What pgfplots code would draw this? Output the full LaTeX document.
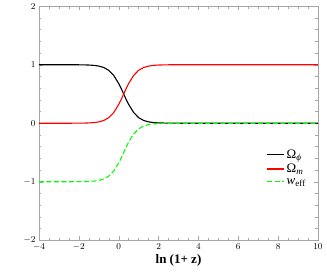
\documentclass[border=0pt]{standalone}
\usepackage{pgfplots}
\pgfplotsset{compat=1.18}
\usepackage{fontspec}
\setmainfont{Liberation Serif}
\begin{document}
\begin{tikzpicture}
\pgfplotstableread{
x omphi omm weff
-4 1.0000 0.0000 -1.0000
-3 0.99996 0.00004 -0.99996
-2.5 0.99975 0.00025 -0.99975
-2 0.99883 0.00117 -0.99883
-1.75 0.99752 0.00248 -0.99752
-1.5 0.99478 0.00522 -0.99478
-1.25 0.9890 0.0110 -0.9890
-1 0.9770 0.0230 -0.9770
-0.75 0.9526 0.0474 -0.9526
-0.5 0.9047 0.0953 -0.9047
-0.25 0.8176 0.1824 -0.8176
0 0.6792 0.3208 -0.6792
0.125 0.5933 0.4067 -0.5933
0.25 0.5000 0.5000 -0.5000
0.375 0.4067 0.5933 -0.4067
0.5 0.3208 0.6792 -0.3208
0.75 0.1824 0.8176 -0.1824
1 0.0953 0.9047 -0.0953
1.25 0.0474 0.9526 -0.0474
1.5 0.0230 0.9770 -0.0230
1.75 0.0110 0.9890 -0.0110
2 0.00522 0.99478 -0.00522
2.5 0.00117 0.99883 -0.00117
3 0.00026 0.99974 -0.00026
4 0.00001 0.99999 -0.00001
6 0.0000 1.0000 0.0000
10 0.0000 1.0000 0.0000
}\data
\begin{axis}[
  name=ax,
  scale only axis,
  width=279pt, height=234pt,
  xmin=-4, xmax=10, ymin=-2, ymax=2,
  xtick={-4,-2,...,10}, ytick={-2,-1,...,2},
  minor x tick num=3, minor y tick num=4,
  tick align=inside,
  axis line style={gray!70, line width=0.6pt},
  every tick/.style={gray!70},
  major tick length=4pt, minor tick length=2.5pt,
  tick label style={font=\fontsize{9.5}{10}\selectfont},
  xticklabel={$\pgfmathprintnumber{\tick}$},
  yticklabel={$\pgfmathprintnumber{\tick}$},
  xlabel={\textbf{ln (1+ z)}},
  xlabel style={font=\fontsize{13}{14}\selectfont, yshift=3pt},
  legend style={draw=none, at={(rel axis cs:0.975,0.31)}, anchor=east,
    font=\fontsize{13}{14}\selectfont},
  legend cell align=left,
]
\addplot[color=black, line width=1.1pt] table[x=x,y=omphi]{\data};
\addlegendentry{Ω\textsubscript{\textit{ϕ}}}
\addplot[color=red, line width=1.1pt] table[x=x,y=omm]{\data};
\addlegendentry{Ω\textsubscript{\textit{m}}}
\addplot[color=green, line width=1.1pt, dash pattern=on 5pt off 2.5pt] table[x=x,y=weff]{\data};
\addlegendentry{\textit{w}\textsubscript{eff}}
\end{axis}
\path (ax.south west) ++(-39pt,-33pt) coordinate (bl);
\path (ax.north east) ++(9pt,6pt) coordinate (tr);
\useasboundingbox (bl) rectangle (tr);
\end{tikzpicture}
\end{document}
